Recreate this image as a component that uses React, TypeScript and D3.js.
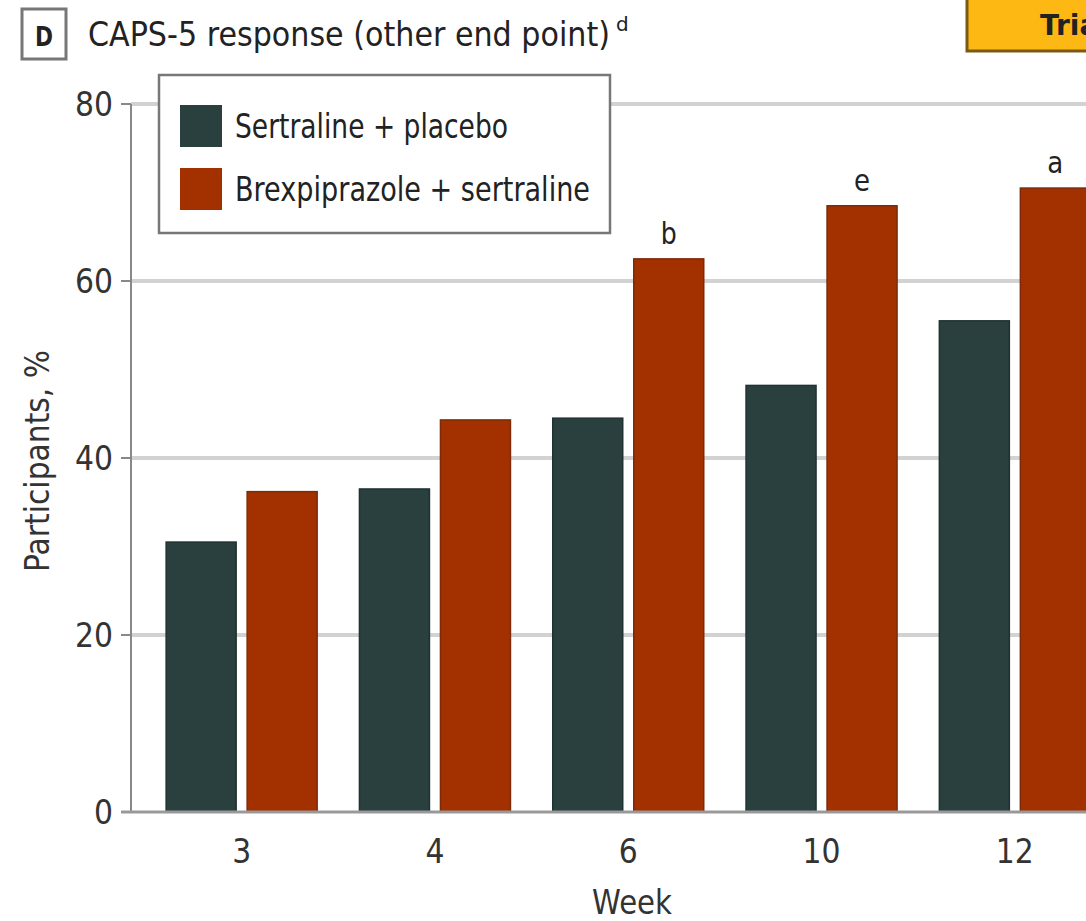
import React from "react";
import * as d3 from "d3";

const weeks = ["3", "4", "6", "10", "12"];
const sertralinePlacebo = [30.5, 36.5, 44.5, 48.2, 55.5];
const brexSertraline = [36.2, 44.3, 62.5, 68.5, 70.5];
const annotations = ["", "", "b", "e", "a"];
const yTicks = [0, 20, 40, 60, 80];
const seriesNames = ["Sertraline + placebo", "Brexpiprazole + sertraline"];
const colors = ["#29403f", "#a33100"];

const W = 1086;
const H = 921;
const FONT = "'DejaVu Sans', sans-serif";

export default function App() {
  const y = d3.scaleLinear().domain([0, 80]).range([812, 104]);
  const x0 = d3.scaleBand<string>().domain(weeks).range([145, 145 + 5 * 193.3]).paddingInner(0).paddingOuter(0);
  const keys = ["s", "b"];
  const x1 = d3.scaleBand<string>().domain(keys).range([0, x0.bandwidth()]).paddingInner(0.136).paddingOuter(0.261);
  const data = weeks.map((w, i) => ({ w, s: sertralinePlacebo[i], b: brexSertraline[i], ann: annotations[i] }));

  return (
    <svg width={W} height={H} style={{ position: "absolute", left: 0, top: 0 }} fontFamily={FONT}>
      <rect width={W} height={H} fill="#fff" />
      {/* Title */}
      <rect x={22} y={9} width={44} height={50} fill="#fff" stroke="#777" strokeWidth={3} />
      <text x={44} y={46} textAnchor="middle" fontSize={26} fontWeight="bold" fill="#222" textLength={18} lengthAdjust="spacingAndGlyphs">D</text>
      <text x={88} y={46} fontSize={34} fill="#222">
        <tspan textLength={522} lengthAdjust="spacingAndGlyphs">CAPS-5 response (other end point)</tspan>
        <tspan dx={6} dy={-15} fontSize={20}>d</tspan>
      </text>
      {/* top-right box */}
      <rect x={967} y={-4} width={140} height={55} fill="#fdb813" stroke="#7a5a10" strokeWidth={3} />
      <text x={1040} y={35} fontSize={28} fontWeight="bold" fill="#222">Trial</text>

      {/* gridlines */}
      {yTicks.filter((t) => t > 0).map((t) => (
        <line key={t} x1={131} x2={W} y1={y(t)} y2={y(t)} stroke="#d2d2d2" strokeWidth={4} />
      ))}
      {/* y axis */}
      <line x1={131} x2={131} y1={y(80)} y2={y(0)} stroke="#888" strokeWidth={2} />
      {yTicks.map((t) => (
        <g key={t}>
          <line x1={121} x2={131} y1={y(t)} y2={y(t)} stroke="#888" strokeWidth={2} />
          <text x={113} y={y(t) + 12} textAnchor="end" fontSize={34} fill="#333" textLength={String(t).length * 19} lengthAdjust="spacingAndGlyphs">{t}</text>
        </g>
      ))}
      <text transform={`translate(49,461) rotate(-90)`} textAnchor="middle" fontSize={33} fill="#333" textLength={222} lengthAdjust="spacingAndGlyphs">Participants, %</text>

      {/* bars */}
      {data.map((d) => (
        <g key={d.w} transform={`translate(${x0(d.w)},0)`}>
          {keys.map((k, j) => {
            const v = (d as any)[k] as number;
            return (
              <rect key={k} x={x1(k)} y={y(v)} width={x1.bandwidth()} height={y(0) - y(v)} fill={colors[j]} stroke={j === 0 ? "#1f3231" : "#7d2a0a"} strokeWidth={1.5} />
            );
          })}
          {d.ann && (
            <text x={(x1("b") as number) + x1.bandwidth() / 2} y={y(d.b) - 15} textAnchor="middle" fontSize={30} fill="#222" textLength={16} lengthAdjust="spacingAndGlyphs">{d.ann}</text>
          )}
          <text x={x0.bandwidth() / 2} y={863} textAnchor="middle" fontSize={34} fill="#333" textLength={d.w.length * 19} lengthAdjust="spacingAndGlyphs">{d.w}</text>
        </g>
      ))}
      {/* zero line */}
      <line x1={121} x2={W} y1={y(0)} y2={y(0)} stroke="#999" strokeWidth={3} />
      <text x={632} y={914} textAnchor="middle" fontSize={33} fill="#333" textLength={80} lengthAdjust="spacingAndGlyphs">Week</text>

      {/* legend */}
      <rect x={159} y={75} width={451} height={158} fill="#fff" stroke="#777" strokeWidth={2.5} />
      {seriesNames.map((n, i) => (
        <g key={n}>
          <rect x={180} y={105 + i * 63} width={42} height={42} fill={colors[i]} />
          <text x={235} y={138 + i * 63} fontSize={33} fill="#222" textLength={i === 0 ? 273 : 355} lengthAdjust="spacingAndGlyphs">{n}</text>
        </g>
      ))}
    </svg>
  );
}
